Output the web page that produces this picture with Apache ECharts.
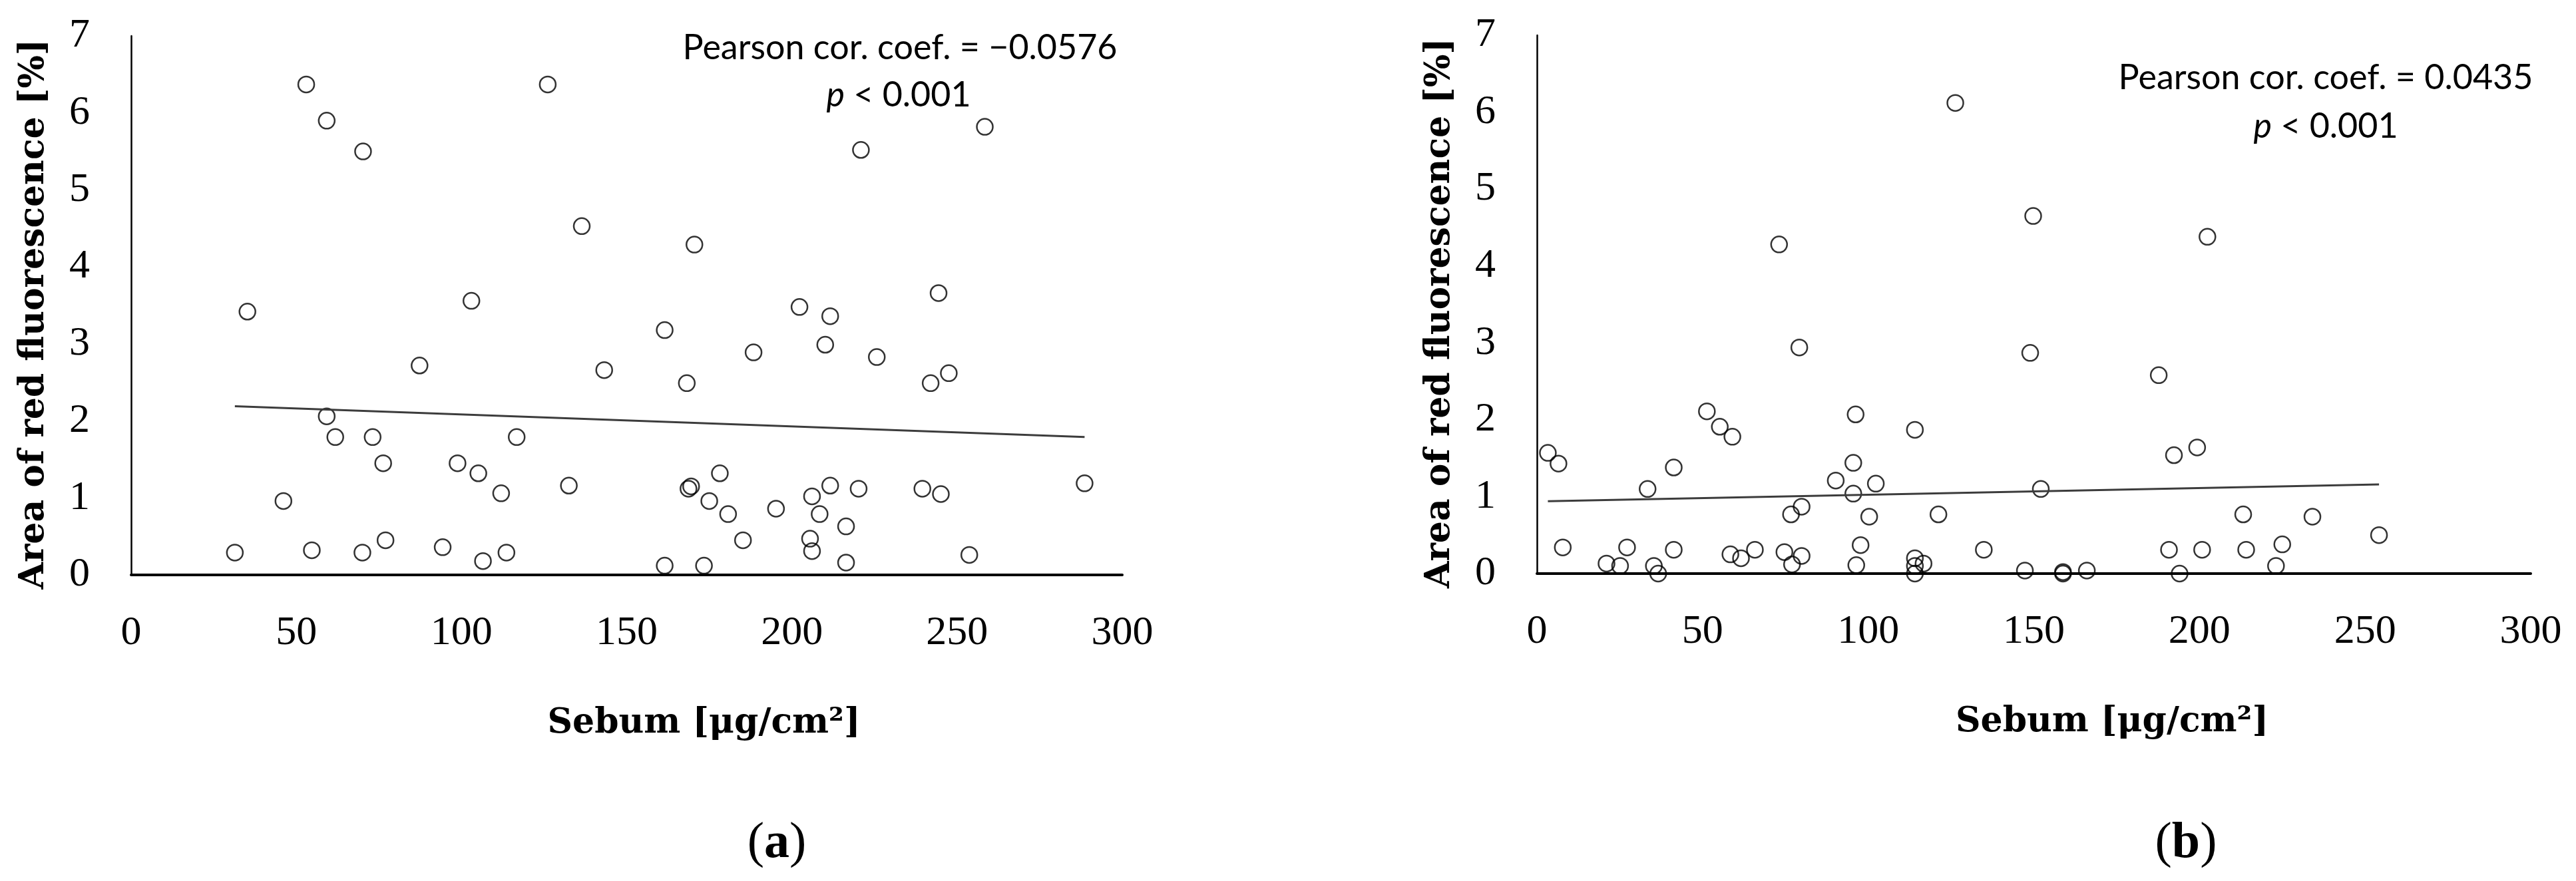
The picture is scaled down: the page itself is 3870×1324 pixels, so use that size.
<!DOCTYPE html>
<html>
<head>
<meta charset="utf-8">
<script src="https://cdn.jsdelivr.net/npm/echarts@6/dist/echarts.min.js"></script>
<style>
  html, body { margin: 0; padding: 0; background: #fff; }
  #main { width: 3870px; height: 1324px; }
</style>
</head>
<body>
<div id="main"></div>
<script>
// panel (a)
var sebumA = [31.4, 35.2, 46.1, 53.0, 54.7, 59.2, 59.2, 61.8, 70.2, 70.0, 73.1, 76.3, 77.0, 87.3, 94.3,
  98.8, 103.0, 105.1, 106.5, 112.0, 113.6, 116.7, 126.1, 132.5, 136.4, 143.2, 161.5, 161.5, 168.2, 169.5,
  168.7, 170.5, 173.4, 175.0, 178.2, 180.7, 185.2, 188.4, 195.2, 202.3, 205.5, 206.1, 206.1, 208.4, 210.1,
  211.6, 211.6, 216.4, 216.4, 220.2, 220.9, 225.7, 239.5, 242.0, 244.4, 245.1, 247.5, 253.7, 258.4, 288.6];
var redA = [0.29, 3.42, 0.96, 6.37, 0.32, 5.90, 2.06, 1.79, 5.50, 0.29, 1.79, 1.45, 0.45, 2.72, 0.36,
  1.45, 3.56, 1.32, 0.18, 1.06, 0.29, 1.79, 6.37, 1.16, 4.53, 2.66, 3.18, 0.12, 2.49, 1.15,
  1.12, 4.29, 0.12, 0.96, 1.32, 0.79, 0.45, 2.89, 0.86, 3.48, 0.47, 1.02, 0.31, 0.79, 2.99,
  3.36, 1.16, 0.63, 0.16, 1.12, 5.52, 2.83, 1.12, 2.49, 3.66, 1.05, 2.62, 0.26, 5.82, 1.19];
var trendA = [[31.4, 2.19], [288.6, 1.79]];

// panel (b)
var sebumB = [3.3, 6.5, 7.8, 21.0, 25.1, 27.2, 33.4, 35.3, 36.6, 41.3, 41.3, 51.3, 55.2, 59.0, 58.4,
  61.6, 65.8, 73.1, 74.7, 76.7, 77.0, 79.2, 79.9, 79.9, 90.2, 95.5, 95.5, 96.2, 96.4, 97.7,
  100.3, 102.3, 114.1, 114.1, 114.1, 114.1, 116.7, 121.2, 126.3, 134.9, 147.3, 148.9, 149.8, 152.1, 158.8,
  158.8, 166.0, 187.7, 190.8, 192.3, 194.0, 199.3, 200.8, 202.4, 213.2, 214.1, 223.1, 225.0, 234.1, 254.2];
var redB = [1.57, 1.43, 0.34, 0.13, 0.10, 0.34, 1.10, 0.10, 0.00, 1.38, 0.31, 2.11, 1.91, 1.78, 0.25,
  0.20, 0.31, 4.28, 0.28, 0.77, 0.12, 2.94, 0.87, 0.23, 1.21, 1.44, 1.04, 2.07, 0.11, 0.37,
  0.74, 1.17, 1.87, 0.20, 0.10, 0.00, 0.13, 0.77, 6.12, 0.31, 0.04, 2.87, 4.65, 1.10, 0.00,
  0.02, 0.04, 2.58, 0.31, 1.54, 0.00, 1.64, 0.31, 4.38, 0.77, 0.31, 0.10, 0.38, 0.74, 0.50];
var trendB = [[3.3, 0.94], [254.2, 1.16]];

// axes
var xTicks = [0, 50, 100, 150, 200, 250, 300];
var yTicks = [0, 1, 2, 3, 4, 5, 6, 7];
var pearson = ['Pearson cor. coef. = \u22120.0576', 'Pearson cor. coef. = 0.0435'];
var pText = '{i|p} < 0.001';

function pairs(xs, ys) {
  return xs.map(function (x, i) { return [x, ys[i]]; });
}

var tickFont = 'Liberation Serif';
var titleFont = 'DejaVu Serif';

function xAxis(idx, padLeft) {
  return {
    gridIndex: idx, type: 'value',
    min: xTicks[0], max: xTicks[xTicks.length - 1], interval: xTicks[1] - xTicks[0],
    name: 'Sebum [\u03bcg/cm\u00b2]', nameLocation: 'middle', nameGap: 197,
    nameTextStyle: { fontFamily: titleFont, fontWeight: 'bold', fontSize: 52, color: '#000', padding: [0, 0, 0, padLeft] },
    axisLine: { show: true, lineStyle: { color: '#000', width: 4 } },
    axisTick: { show: false },
    splitLine: { show: false },
    axisLabel: { fontFamily: tickFont, fontSize: 62, color: '#000', margin: 57 }
  };
}
function yAxis(idx) {
  return {
    gridIndex: idx, type: 'value',
    min: yTicks[0], max: yTicks[yTicks.length - 1], interval: yTicks[1] - yTicks[0],
    name: 'Area of red fluorescence [%]', nameLocation: 'middle', nameGap: 120,
    nameTextStyle: { fontFamily: titleFont, fontWeight: 'bold', fontSize: 52, color: '#000', padding: [0, 26, 0, 0] },
    axisLine: { show: true, lineStyle: { color: '#000', width: 2.5 } },
    axisTick: { show: false },
    splitLine: { show: false },
    axisLabel: { fontFamily: tickFont, fontSize: 62, color: '#000', margin: 62 }
  };
}

var dotStyle = { color: 'rgba(0,0,0,0)', borderColor: '#000', borderWidth: 2.5 };

var chart = echarts.init(document.getElementById('main'));
var option = {
  backgroundColor: '#fff',
  animation: false,
  grid: [
    { left: 197, top: 54, width: 1489, height: 810 },
    { left: 2309, top: 53, width: 1493, height: 809 }
  ],
  xAxis: [xAxis(0, 232), xAxis(1, 235)],
  yAxis: [yAxis(0), yAxis(1)],
  series: [
    { type: 'line', xAxisIndex: 0, yAxisIndex: 0, data: trendA, showSymbol: false, silent: true,
      lineStyle: { color: '#3c3c3c', width: 3 } },
    { type: 'scatter', xAxisIndex: 0, yAxisIndex: 0, data: pairs(sebumA, redA),
      symbol: 'circle', symbolSize: 24, itemStyle: dotStyle },
    { type: 'line', xAxisIndex: 1, yAxisIndex: 1, data: trendB, showSymbol: false, silent: true,
      lineStyle: { color: '#3c3c3c', width: 3 } },
    { type: 'scatter', xAxisIndex: 1, yAxisIndex: 1, data: pairs(sebumB, redB),
      symbol: 'circle', symbolSize: 24, itemStyle: dotStyle }
  ],
  graphic: [
    { type: 'text', x: 1352, y: 72, style: { text: pearson[0], fontFamily: 'Lato', fontSize: 52, fill: '#000', align: 'center', verticalAlign: 'middle' } },
    { type: 'text', x: 1350, y: 143, style: { text: pText, fontFamily: 'Lato', fontSize: 52, fill: '#000', align: 'center', verticalAlign: 'middle',
      rich: { i: { fontFamily: 'Lato', fontSize: 52, fontStyle: 'italic', fill: '#000' } } } },
    { type: 'text', x: 3494, y: 117, style: { text: pearson[1], fontFamily: 'Lato', fontSize: 52, fill: '#000', align: 'center', verticalAlign: 'middle' } },
    { type: 'text', x: 3494, y: 190, style: { text: pText, fontFamily: 'Lato', fontSize: 52, fill: '#000', align: 'center', verticalAlign: 'middle',
      rich: { i: { fontFamily: 'Lato', fontSize: 52, fontStyle: 'italic', fill: '#000' } } } },
    { type: 'text', x: 1167, y: 1268, style: { text: '({b|a})', fontFamily: tickFont, fontSize: 76, fill: '#000', align: 'center', verticalAlign: 'middle',
      rich: { b: { fontFamily: tickFont, fontSize: 76, fontWeight: 'bold', fill: '#000' } } } },
    { type: 'text', x: 3284, y: 1268, style: { text: '({b|b})', fontFamily: tickFont, fontSize: 76, fill: '#000', align: 'center', verticalAlign: 'middle',
      rich: { b: { fontFamily: tickFont, fontSize: 76, fontWeight: 'bold', fill: '#000' } } } }
  ]
};
chart.setOption(option);

window.addEventListener('resize', function () {
  chart.resize();
});
</script>
</body>
</html>
